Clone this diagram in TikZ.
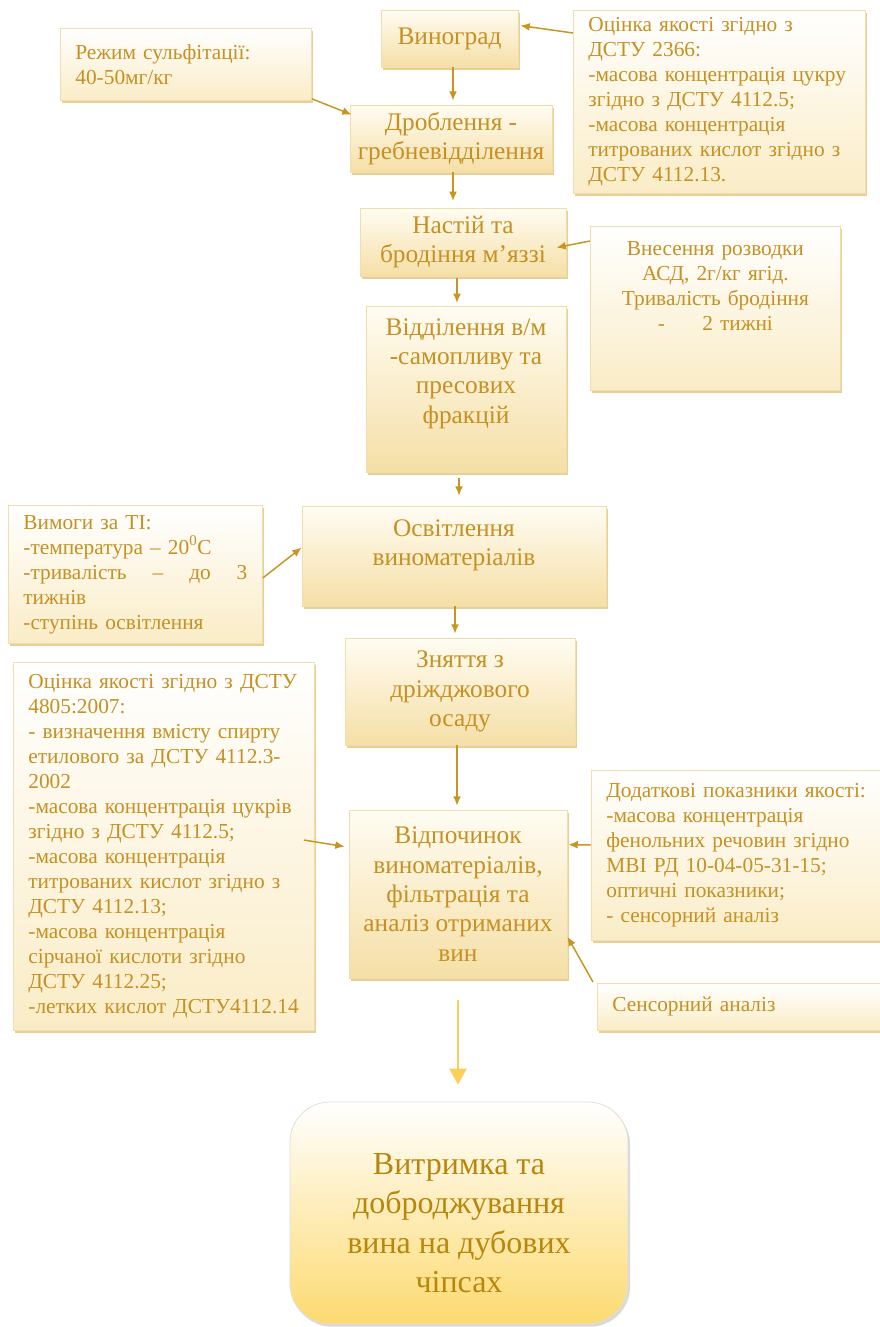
\documentclass[tikz,border=0pt]{standalone}
\usepackage{fontspec}
\setmainfont{Liberation Serif}
\usepackage{tikz}
\usetikzlibrary{calc,shadows,arrows.meta}

\definecolor{goldtext}{RGB}{198,144,34}
\definecolor{agetext}{RGB}{184,134,11}
\definecolor{arrowgold}{RGB}{200,150,32}
\definecolor{lightgold}{RGB}{252,208,88}
\definecolor{boxline}{RGB}{240,222,176}
\definecolor{boxtop}{RGB}{255,252,242}
\definecolor{boxbottom}{RGB}{245,223,166}
\definecolor{noteshade}{RGB}{250,236,198}
\definecolor{boxshade}{RGB}{232,208,148}
\definecolor{agebottom}{RGB}{252,218,112}

\tikzset{
  mainbox/.style={draw=boxline, line width=0.6pt, top color=boxtop, bottom color=boxbottom,
    general shadow={fill=boxshade, shadow xshift=1.5pt, shadow yshift=-2pt},
    text=goldtext, align=center, font=\fontsize{19}{22}\selectfont, inner sep=3pt},
  notebox/.style={draw=boxline, line width=0.6pt, top color=white, bottom color=noteshade,
    general shadow={fill=boxshade, shadow xshift=1.5pt, shadow yshift=-2pt},
    text=goldtext, align=left, font=\fontsize{16}{18.75}\selectfont,
    inner xsep=11.25pt, inner ysep=4pt, anchor=north west},
  agebox/.style={draw=gray!25, line width=0.6pt, top color=white, bottom color=agebottom,
    general shadow={fill=gray!30, shadow xshift=1.5pt, shadow yshift=-2pt},
    rounded corners=30pt, text=agetext, align=center, font=\fontsize{24}{29.5}\selectfont},
  arr/.style={draw=arrowgold, line width=1.1pt, -{Latex[length=7pt,width=6pt]}},
  lastarr/.style={draw=lightgold, line width=0.9pt, -{Triangle[length=12pt,width=13pt]}},
}

\begin{document}
\begin{tikzpicture}[x=0.75pt,y=-0.75pt]
  \useasboundingbox[fill=white] (0,0) rectangle (879,1327);

  \node[mainbox, minimum width=102.75pt, minimum height=42.75pt] (grape) at (449.5,38.5) {Виноград};
  \node[mainbox, minimum width=151.5pt, minimum height=50.25pt] (crush) at (451,138.5) {Дроблення -\\гребневідділення};
  \node[mainbox, minimum width=154.5pt, minimum height=51pt] (must) at (463,242) {Настій та\\бродіння м’яззі};
  \node[mainbox, minimum width=150pt, minimum height=124.5pt] (sep) at (466,389) {\parbox[c][106pt][t]{140pt}{\centering Відділення в/м\\-самопливу та\\пресових\\фракцій}};
  \node[mainbox, minimum width=228pt, minimum height=75pt] (clar) at (454,556) {\parbox[c][55pt][t]{220pt}{\centering Освітлення\\виноматеріалів}};
  \node[mainbox, minimum width=172.5pt, minimum height=80.25pt] (lees) at (460,691.5) {Зняття з\\дріжджового\\осаду};
  \node[mainbox, minimum width=163.5pt, minimum height=126pt] (rest) at (458,894) {Відпочинок\\виноматеріалів,\\фільтрація та\\аналіз отриманих\\вин};
  \node[agebox, minimum width=253.5pt, minimum height=166.5pt] (age) at (459,1213) {\parbox[c][119.5pt][b]{240pt}{\centering Витримка та\\доброджування\\вина на дубових\\чіпсах}};

  \node[notebox, text width=165.75pt, minimum height=54pt] (sulf) at (60,28) {Режим сульфітації:\\40-50мг/кг};
  \node[notebox, text width=196.5pt, minimum height=137.25pt] (qual1) at (573,10) {Оцінка якості згідно з\\ДСТУ 2366:\\-масова концентрація цукру\\згідно з ДСТУ 4112.5;\\-масова концентрація\\титрованих кислот згідно з\\ДСТУ 4112.13.};
  \node[notebox, text width=165pt, minimum height=123pt] (yeast) at (590,226) {\parbox[t][100pt][t]{165pt}{\centering Внесення розводки\\АСД, 2г/кг ягід.\\Тривалість бродіння\\-\hspace{28pt}2 тижні}};
  \node[notebox, text width=168pt, minimum height=103.5pt] (ti) at (8,505) {Вимоги за ТІ:\\-температура – 20\textsuperscript{0}С\\-тривалість\hfill–\hfill до\hfill 3\\тижнів\\-ступінь освітлення};
  \node[notebox, text width=203.25pt, minimum height=276pt] (qual2) at (13,662) {Оцінка якості згідно з ДСТУ\\4805:2007:\\- визначення вмісту спирту\\етилового за ДСТУ 4112.3-\\2002\\-масова концентрація цукрів\\згідно з ДСТУ 4112.5;\\-масова концентрація\\титрованих кислот згідно з\\ДСТУ 4112.13;\\-масова концентрація\\сірчаної кислоти згідно\\ДСТУ 4112.25;\\-летких кислот ДСТУ4112.14};
  \node[notebox, text width=202.5pt, minimum height=127.5pt] (extra) at (591,770) {Додаткові показники якості:\\-масова концентрація\\фенольних речовин згідно\\МВІ РД 10-04-05-31-15;\\оптичні показники;\\- сенсорний аналіз};
  \node[notebox, text width=202.5pt, minimum height=35.25pt] (sens) at (597,983) {Сенсорний аналіз};

  \draw[arr, shorten >=3pt] ($(grape.south)+(3.5,0)$) -- ($(crush.north)+(2,0)$);
  \draw[arr, shorten >=5pt] ($(crush.south)+(2,0)$) -- ($(must.north)+(-10,0)$);
  \draw[arr, shorten <=1.5pt, shorten >=2pt] ($(must.south)+(-6,0)$) -- ($(sep.north)+(-9,0)$);
  \draw[arr, shorten <=4.5pt, shorten >=7.5pt] ($(sep.south)+(-7,0)$) -- ($(clar.north)+(5,0)$);
  \draw[arr, shorten >=3pt] ($(clar.south)+(1,0)$) -- ($(lees.north)+(-5,0)$);
  \draw[arr, shorten >=3pt] ($(lees.south)+(-3,0)$) -- ($(rest.north)+(-1,0)$);
  \draw[lastarr, shorten <=16.5pt, shorten >=12.75pt] (rest.south) -- (rest.south |- age.north);

  \draw[arr] ($(qual1.north west)+(0,23)$) -- ($(grape.north east)+(2,16)$);
  \draw[arr] ($(sulf.south east)+(0,-2)$) -- ($(crush.north west)+(2,10)$);
  \draw[arr] ($(yeast.north west)+(0,15)$) -- ($(must.north east)+(-10,40)$);
  \draw[arr] ($(ti.north east)+(0,73)$) -- ($(clar.north west)+(0,42)$);
  \draw[arr] ($(qual2.north east)+(-11,178)$) -- ($(rest.north west)+(-4,37)$);
  \draw[arr] ($(extra.north west)+(0,75)$) -- ($(rest.north east)+(1,35)$);
  \draw[arr] ($(sens.north west)+(-4,-1)$) -- ($(rest.north east)+(0,127)$);
\end{tikzpicture}
\end{document}
